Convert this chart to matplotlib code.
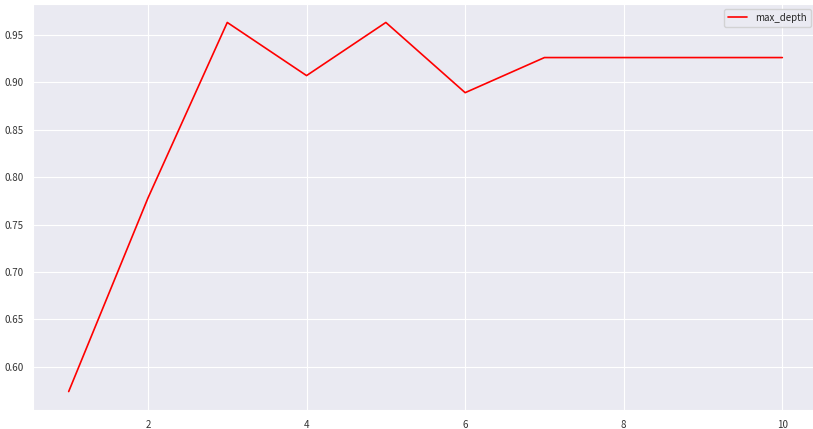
import matplotlib
matplotlib.use('Agg')
import matplotlib.pyplot as plt
import seaborn as sns

depths = [1, 2, 3, 4, 5, 6, 7, 8, 9, 10]
scores = [0.574, 0.778, 0.963, 0.907, 0.963, 0.889, 0.926, 0.926, 0.926, 0.926]

sns.set_style('darkgrid')
plt.rcParams['font.family'] = ['Noto Sans CJK SC', 'DejaVu Sans']

fig = plt.figure(figsize=(8.13, 4.29), dpi=100)
# the axes run a little past the right edge, as in the reference
ax = fig.add_axes([33/813, 19/429, 785/813, 406/429])
ax.plot(depths, scores, color='red', linewidth=1.2, label='max_depth')
ax.legend(loc='upper right', fontsize=7, bbox_to_anchor=(0.997, 1.0))
ax.tick_params(labelsize=7, colors='#333333')
fig.savefig('out.png', dpi=100)
